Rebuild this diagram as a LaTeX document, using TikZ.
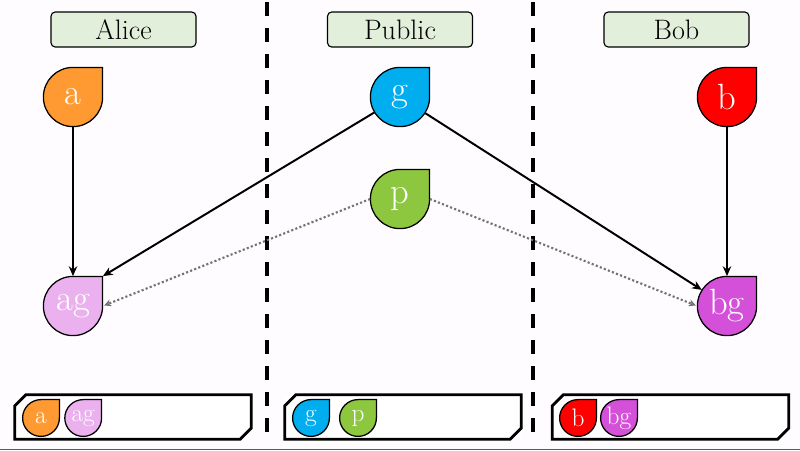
\documentclass[tikz,border=0pt]{standalone}
\usetikzlibrary{arrows.meta}

\definecolor{acol}{HTML}{FF9A33}
\definecolor{agcol}{HTML}{EBB1EE}
\definecolor{gcol}{HTML}{00AEEF}
\definecolor{pcol}{HTML}{8DC63F}
\definecolor{bcol}{HTML}{FF0000}
\definecolor{bgcol}{HTML}{D550D9}
\definecolor{headfill}{HTML}{E2EFDA}
\definecolor{slide}{RGB}{254,252,254}

% drop: name, centre, radius, colour, text style, label
\newcommand{\drop}[6]{%
  \filldraw[dropline, fill=#4, shift={(#2)}] (0,#3) -- (#3,#3) -- (#3,0)
    arc[start angle=0, end angle=-270, radius=#3] -- cycle;
  \node[#5, minimum size={2*#3cm}] (#1) at (#2) {#6};
}

% stash: name, centre (box with two cut corners)
\newcommand{\stash}[2]{%
  \node[stashbox] (#1) at (#2) {};
  \draw[stashline] ([yshift=-0.28cm]#1.north west) -- ([xshift=0.28cm]#1.north west)
    -- (#1.north east) -- ([yshift=0.28cm]#1.south east)
    -- ([xshift=-0.28cm]#1.south east) -- (#1.south west) -- cycle;
}

\begin{document}
\begin{tikzpicture}[
  header/.style={rectangle, draw=black, line width=0.8pt, fill=headfill, rounded corners=3pt, minimum width=3.625cm, minimum height=0.875cm, font=\fontsize{20}{22}\selectfont},
  dropline/.style={draw=black, line width=0.9pt},
  bigtxt/.style={circle, inner sep=0pt, text=white, font=\fontsize{26}{26}\selectfont},
  smalltxt/.style={circle, inner sep=0pt, text=white, font=\fontsize{18}{18}\selectfont},
  arrow/.style={->, >={Stealth[length=7pt, width=6pt]}, line width=1.4pt},
  dotarrow/.style={->, >={Stealth[length=5pt, width=5pt]}, gray!90!black, line width=1.5pt, dash pattern=on 1.5pt off 1.6pt, shorten >=1pt},
  divider/.style={line width=2.2pt, dash pattern=on 0.35cm off 0.3cm},
  stashbox/.style={rectangle, fill=white, minimum width=5.9cm, minimum height=1.1cm, inner sep=0pt},
  stashline/.style={draw=black, line width=2pt, line join=miter},
]

% ══ Slide ══
\fill[slide] (0,0) rectangle (20,-11.25);
\useasboundingbox (0,0) rectangle (20,-11.25);
\draw[gray!70!black, line width=0.6pt] (0,-11.225) -- (20,-11.225);

% ══ Column positions ══
\def\xa{1.825}
\def\xp{10}
\def\xb{18.175}

% ══ Dividers ══
\draw[divider] (6.675,-0.06) -- (6.675,-11.0);
\draw[divider] (13.325,-0.06) -- (13.325,-11.0);

% ══ Headers ══
\node[header] (alice) at (3.0875,-0.7375) {Alice};
\node[header] (public) at (\xp,-0.7375) {Public};
\node[header] (bob) at (16.9125,-0.7375) {Bob};

% ══ Keys ══
\drop{a}{\xa,-2.425}{0.74}{acol}{bigtxt}{a}
\drop{g}{\xp,-2.425}{0.74}{gcol}{bigtxt}{g}
\drop{b}{\xb,-2.425}{0.74}{bcol}{bigtxt}{b}
\drop{p}{\xp,-4.975}{0.74}{pcol}{bigtxt}{p}
\drop{ag}{\xa,-7.65}{0.74}{agcol}{bigtxt}{ag}
\drop{bg}{\xb,-7.65}{0.74}{bgcol}{bigtxt}{bg}

\draw[arrow] (a) -- (ag);
\draw[arrow] (g) -- (ag.north -| ag.east);
\draw[arrow] (g) -- (bg);
\draw[arrow] (b) -- (bg);
\draw[dotarrow] (p.west) -- (ag.east);
\draw[dotarrow] (p.east) -- (bg.west);

% ══ What each side holds ══
\stash{alicestash}{3.325,-10.425}
\stash{publicstash}{10.075,-10.425}
\stash{bobstash}{16.7625,-10.425}

\drop{sa}{1.025,-10.45}{0.46}{acol}{smalltxt}{a}
\drop{sag}{2.08,-10.45}{0.46}{agcol}{smalltxt}{ag}
\drop{sg}{7.775,-10.45}{0.46}{gcol}{smalltxt}{g}
\drop{sp}{8.95,-10.45}{0.46}{pcol}{smalltxt}{p}
\drop{sb}{14.45,-10.45}{0.46}{bcol}{smalltxt}{b}
\drop{sbg}{15.475,-10.45}{0.46}{bgcol}{smalltxt}{bg}

\end{tikzpicture}
\end{document}
